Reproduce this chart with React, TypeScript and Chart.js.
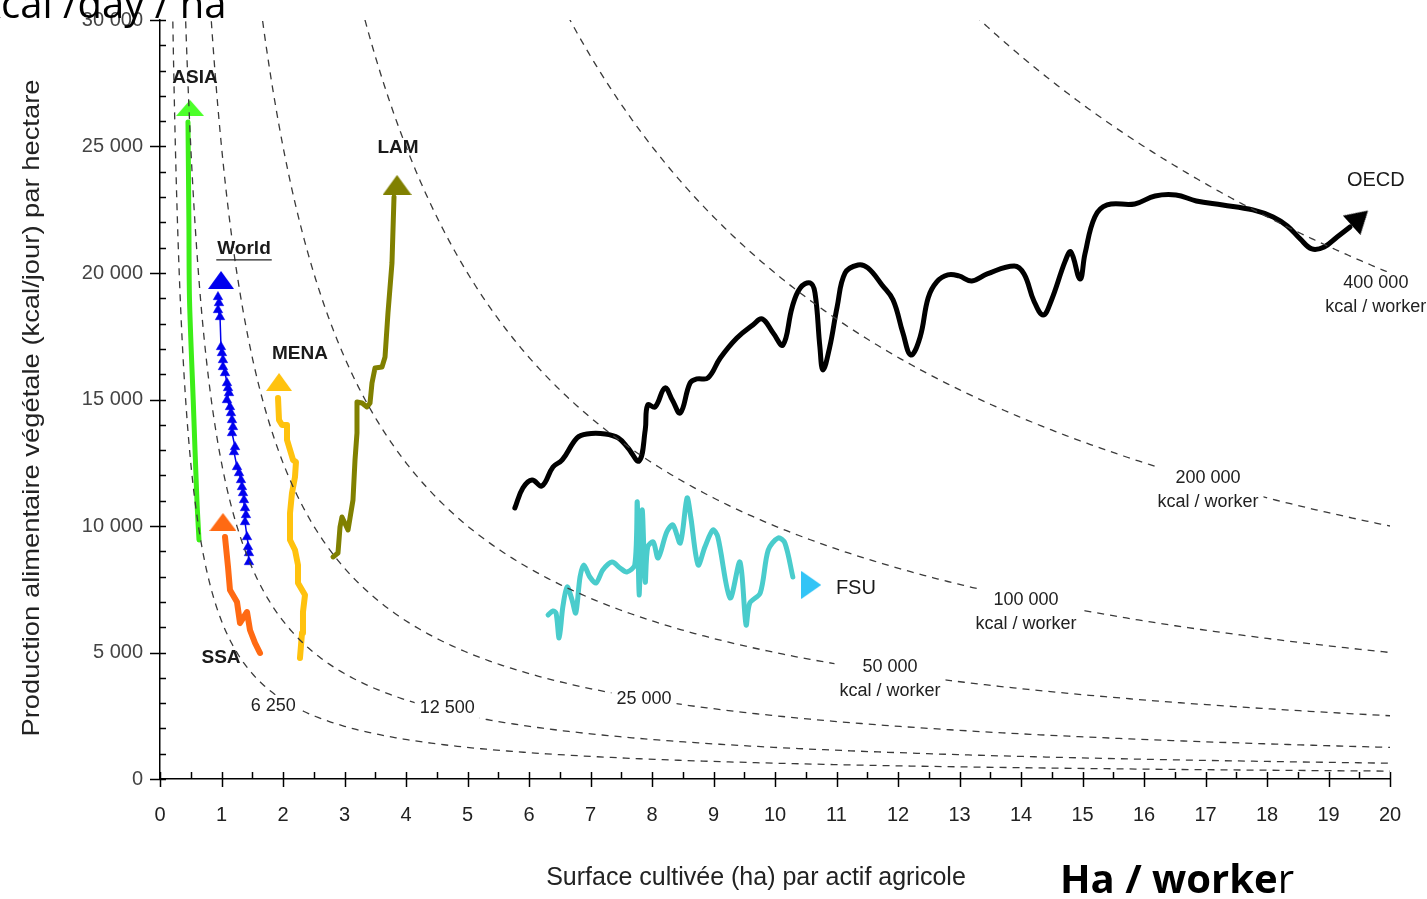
import React, { useEffect, useRef } from 'react';
import { Chart, registerables } from 'chart.js';

Chart.register(...registerables);

// ---------- axes ----------
const X_TICKS = [0, 1, 2, 3, 4, 5, 6, 7, 8, 9, 10, 11, 12, 13, 14, 15, 16, 17, 18, 19, 20];
const Y_TICKS = [0, 5000, 10000, 15000, 20000, 25000, 30000];
const X_MINOR_STEP = 0.5;
const Y_MINOR_STEP = 1000;

// ---------- iso-lines (kcal / worker) ----------
const ISO_K = [6250, 12500, 25000, 50000, 100000, 200000, 400000];
const ISO_LABEL_1 = ['6 250', '12 500', '25 000', '50 000', '100 000', '200 000', '400 000'];
const ISO_LABEL_2 = ['', '', '', 'kcal / worker', 'kcal / worker', 'kcal / worker', 'kcal / worker'];
const ISO_LABEL_X = [1.84, 4.67, 7.87, 11.87, 14.08, 17.04, 19.77];
const ISO_LABEL_Y = [2886, 2807, 3162, 4427, 7076, 11898, 19607];

// ---------- regional series (x = ha / worker, y = kcal/day/ha) ----------
const ASIA: [number, number][] = [
  [0.634, 9448], [0.60, 11029], [0.54, 14982], [0.48, 18935], [0.47, 22000], [0.455, 25971],
];
const WORLD: [number, number][] = [
  [1.447, 8578], [1.447, 8934], [1.431, 9171], [1.415, 9566], [1.382, 10159], [1.398, 10436],
  [1.382, 10713], [1.366, 11029], [1.350, 11306], [1.333, 11543], [1.317, 11820], [1.285, 12096],
  [1.252, 12333], [1.203, 12926], [1.220, 13124], [1.171, 13677], [1.187, 13915], [1.171, 14191],
  [1.154, 14468], [1.138, 14705], [1.089, 14982], [1.122, 15259], [1.106, 15456], [1.089, 15654],
  [1.057, 16049], [1.024, 16286], [1.024, 16563], [1.008, 16840], [0.992, 17077], [0.976, 18263],
  [0.943, 18540], [0.959, 18816], [0.943, 19053],
];
const MENA: [number, number][] = [
  [2.276, 4783], [2.309, 5771], [2.325, 6602], [2.358, 7274], [2.244, 7748], [2.244, 8459],
  [2.195, 9052], [2.114, 9448], [2.114, 10515], [2.146, 11306], [2.195, 11938], [2.211, 12531],
  [2.163, 12610], [2.065, 13401], [2.065, 13994], [1.984, 13994], [1.935, 14191], [1.919, 15061],
];
const SSA: [number, number][] = [
  [1.626, 4981], [1.545, 5376], [1.463, 5890], [1.415, 6602], [1.301, 6167], [1.252, 6997],
  [1.138, 7471], [1.106, 8380], [1.057, 9566],
];
const LAM: [number, number][] = [
  [2.813, 8776], [2.894, 8934], [2.927, 9962], [2.959, 10357], [3.057, 9843], [3.138, 11029],
  [3.171, 12610], [3.203, 13677], [3.203, 14903], [3.285, 14863], [3.366, 14705], [3.415, 14863],
  [3.447, 15654], [3.496, 16247], [3.610, 16286], [3.659, 16682], [3.707, 18421], [3.772, 20397],
  [3.805, 23006],
];
const FSU: [number, number][] = [
  [6.31, 6483], [6.39, 6641], [6.44, 6562], [6.49, 5574], [6.55, 6799], [6.62, 7590], [6.70, 7076],
  [6.76, 6562], [6.83, 7985], [6.89, 8459], [6.99, 7985], [7.09, 7748], [7.20, 8262], [7.35, 8578],
  [7.48, 8341], [7.59, 8183], [7.72, 8459], [7.76, 10950], [7.79, 7274], [7.84, 10634], [7.89, 7787],
  [7.93, 9171], [8.02, 9369], [8.10, 8736], [8.24, 9764], [8.34, 10041], [8.46, 9329], [8.57, 11108],
  [8.63, 10357], [8.75, 8459], [8.86, 9171], [8.99, 9843], [9.07, 9566], [9.27, 7155], [9.43, 8578],
  [9.53, 6088], [9.59, 6957], [9.76, 7353], [9.89, 9052], [10.05, 9527], [10.16, 9329], [10.29, 7985],
];
const OECD: [number, number][] = [
  [5.77, 10713], [5.90, 11503], [6.05, 11820], [6.21, 11582], [6.39, 12333], [6.54, 12610],
  [6.78, 13480], [6.94, 13638], [7.24, 13638], [7.45, 13480], [7.61, 13084], [7.79, 12571],
  [7.89, 13796], [7.93, 14784], [8.05, 14705], [8.21, 15456], [8.33, 14982], [8.46, 14468],
  [8.62, 15654], [8.73, 15812], [8.91, 15852], [9.11, 16642], [9.38, 17433], [9.64, 17947],
  [9.79, 18184], [9.97, 17630], [10.13, 17156], [10.28, 18658], [10.41, 19409], [10.57, 19607],
  [10.65, 19212], [10.73, 17077], [10.78, 16168], [10.89, 17077], [11.01, 18658], [11.14, 20002],
  [11.35, 20318], [11.51, 20200], [11.74, 19528], [11.92, 18935], [12.08, 17630], [12.21, 16761],
  [12.36, 17472], [12.49, 19014], [12.63, 19646], [12.81, 19923], [12.99, 19884], [13.20, 19686],
  [13.45, 19963], [13.89, 20279], [14.05, 19963], [14.21, 18895], [14.36, 18342], [14.49, 18895],
  [14.72, 20477], [14.81, 20832], [14.96, 19765], [15.04, 20753], [15.20, 22216], [15.40, 22690],
  [15.85, 22730], [16.18, 23046], [16.52, 23085], [16.85, 22848], [17.28, 22690], [17.77, 22493],
  [18.10, 22216], [18.33, 21860], [18.54, 21346], [18.73, 20951], [18.93, 21030], [19.14, 21425],
  [19.35, 21821],
];

// ---------- arrow heads (end of each trajectory) ----------
const ARROW_X = [0.488, 0.992, 1.935, 1.024, 3.854, 10.59, 19.51];
const ARROW_Y = [26525, 19725, 15693, 10159, 23481, 7669, 22176];
const ARROW_ANGLE = [0, 0, 0, 0, 0, 90, 48];

// ---------- region names ----------
const REGION_NAMES = ['ASIA', 'World', 'MENA', 'LAM', 'SSA', 'FSU', 'OECD'];
const REGION_LABEL_X = [0.569, 1.366, 2.276, 3.870, 0.992, 10.99, 19.77];
const REGION_LABEL_Y = [27711, 20951, 16800, 24943, 4783, 7550, 23639];

const COLORS = {
  asia: '#3cee18',
  asiaArrow: '#4cff2a',
  world: '#0000ee',
  mena: '#ffc20e',
  ssa: '#ff6a13',
  lam: '#808000',
  fsu: '#4acccc',
  fsuArrow: '#33c4f6',
  oecd: '#000000',
};
const ARROW_COLORS = [COLORS.asiaArrow, COLORS.world, COLORS.mena, COLORS.ssa, COLORS.lam, COLORS.fsuArrow, COLORS.oecd];
const ARROW_W = [28, 26, 26, 27, 29, 28, 26];
const ARROW_H = [16, 18, 18, 18, 20, 20, 22];

const FONT = '"Liberation Sans", Arial, sans-serif';

function fmt(v: number): string {
  if (v === 0) return '0';
  const th = Math.floor(v / 1000);
  const rest = String(v % 1000).padStart(3, '0');
  return `${th} ${rest}`;
}

function toXY(arr: [number, number][]) {
  return arr.map(([x, y]) => ({ x, y }));
}

function makeTriangle(color: string, w: number, h: number): HTMLCanvasElement {
  const c = document.createElement('canvas');
  c.width = w;
  c.height = h;
  const g = c.getContext('2d')!;
  g.fillStyle = color;
  g.beginPath();
  g.moveTo(w / 2, 0);
  g.lineTo(w, h);
  g.lineTo(0, h);
  g.closePath();
  g.fill();
  return c;
}

function isoCurve(k: number) {
  const pts: { x: number; y: number }[] = [];
  const x0 = k / 32000;
  const x1 = 20;
  const n = 300;
  for (let i = 0; i <= n; i++) {
    const x = x0 * Math.pow(x1 / x0, i / n);
    pts.push({ x, y: k / x });
  }
  return pts;
}

const decorPlugin = {
  id: 'decor',
  afterDatasetsDraw(chart: any) {
    const { ctx, scales } = chart;
    const x = scales.x;
    const y = scales.y;
    ctx.save();
    ctx.font = `18px ${FONT}`;
    ctx.textAlign = 'center';
    ctx.textBaseline = 'middle';
    for (let i = 0; i < ISO_K.length; i++) {
      const px = x.getPixelForValue(ISO_LABEL_X[i]);
      const py = y.getPixelForValue(ISO_LABEL_Y[i]);
      const l1 = ISO_LABEL_1[i];
      const l2 = ISO_LABEL_2[i];
      const w = Math.max(ctx.measureText(l1).width, l2 ? ctx.measureText(l2).width : 0);
      const h = l2 ? 46 : 22;
      ctx.fillStyle = '#ffffff';
      ctx.fillRect(px - w / 2 - 5, py - 11, w + 10, h);
      ctx.fillStyle = '#222222';
      ctx.fillText(l1, px, py);
      if (l2) ctx.fillText(l2, px, py + 24);
    }
    ctx.restore();
  },
  afterDraw(chart: any) {
    const { ctx, chartArea, scales } = chart;
    const x = scales.x;
    const y = scales.y;
    ctx.save();
    // ticks
    ctx.strokeStyle = '#000';
    ctx.lineWidth = 1.5;
    const yMax = Y_TICKS[Y_TICKS.length - 1];
    for (let v = 0; v <= yMax + 1e-6; v += Y_MINOR_STEP) {
      const py = Math.round(y.getPixelForValue(v)) + 0.5;
      const major = Y_TICKS.includes(v);
      ctx.beginPath();
      ctx.moveTo(chartArea.left - (major ? 10 : 0), py);
      ctx.lineTo(chartArea.left + 6, py);
      ctx.stroke();
    }
    const xMax = X_TICKS[X_TICKS.length - 1];
    for (let v = 0; v <= xMax + 1e-6; v += X_MINOR_STEP) {
      const px = Math.round(x.getPixelForValue(v)) + 0.5;
      const major = X_TICKS.includes(v);
      ctx.beginPath();
      ctx.moveTo(px, chartArea.bottom - 7);
      ctx.lineTo(px, chartArea.bottom + (major ? 8 : 0));
      ctx.stroke();
    }

    // region labels
    ctx.textBaseline = 'middle';
    for (let i = 0; i < REGION_NAMES.length; i++) {
      const name = REGION_NAMES[i];
      const px = x.getPixelForValue(REGION_LABEL_X[i]);
      const py = y.getPixelForValue(REGION_LABEL_Y[i]);
      const regular = name === 'FSU' || name === 'OECD';
      ctx.font = `${regular ? 'normal' : 'bold'} ${regular ? 20 : 19}px ${FONT}`;
      ctx.fillStyle = '#1a1a1a';
      ctx.textAlign = name === 'FSU' ? 'left' : 'center';
      ctx.fillText(name, px, py);
      if (name === 'World') {
        const w = ctx.measureText(name).width;
        ctx.strokeStyle = '#222';
        ctx.lineWidth = 1.3;
        ctx.beginPath();
        ctx.moveTo(px - w / 2 - 1, py + 11);
        ctx.lineTo(px + w / 2 + 1, py + 11);
        ctx.stroke();
      }
    }

    // axis titles
    ctx.fillStyle = '#222';
    ctx.font = `25px ${FONT}`;
    ctx.textAlign = 'center';
    ctx.textBaseline = 'middle';
    ctx.fillText('Surface cultivée (ha) par actif agricole', 756, 878);

    ctx.save();
    ctx.translate(32, 408);
    ctx.rotate(-Math.PI / 2);
    ctx.font = `24px ${FONT}`;
    const yt = 'Production alimentaire végétale (kcal/jour) par hectare';
    const mw = ctx.measureText(yt).width;
    ctx.scale(657 / mw, 1);
    ctx.fillText(yt, 0, 0);
    ctx.restore();

    // overlay captions
    ctx.fillStyle = '#000';
    ctx.textAlign = 'left';
    ctx.textBaseline = 'alphabetic';
    ctx.font = `normal 40px "Open Sans", "Noto Sans", sans-serif`;
    ctx.fillText('kcal /day / ha', -20, 18);

    ctx.font = `bold 40px "Open Sans", "Noto Sans", sans-serif`;
    const part = 'Ha / worke';
    ctx.fillText(part, 1060, 893);
    const pw = ctx.measureText(part).width;
    ctx.font = `normal 40px "Open Sans", "Noto Sans", sans-serif`;
    ctx.fillText('r', 1060 + pw, 893);
    ctx.restore();
  },
};

export default function App() {
  const ref = useRef<HTMLCanvasElement | null>(null);

  useEffect(() => {
    const canvas = ref.current;
    if (!canvas) return;

    const arrowStyles = ARROW_COLORS.map((c, i) => makeTriangle(c, ARROW_W[i], ARROW_H[i]));

    const seriesBase = {
      pointRadius: 0,
      fill: false,
      borderJoinStyle: 'round' as const,
      borderCapStyle: 'round' as const,
      order: 2,
    };

    const datasets: any[] = [
      { ...seriesBase, label: 'ASIA', data: toXY(ASIA), borderColor: COLORS.asia, borderWidth: 5, tension: 0.3 },
      {
        ...seriesBase,
        label: 'World',
        data: toXY(WORLD),
        borderColor: COLORS.world,
        borderWidth: 1.5,
        tension: 0,
        pointRadius: 5.5,
        pointStyle: 'triangle',
        pointBackgroundColor: COLORS.world,
        pointBorderColor: COLORS.world,
        pointBorderWidth: 0.5,
      },
      { ...seriesBase, label: 'MENA', data: toXY(MENA), borderColor: COLORS.mena, borderWidth: 6, tension: 0 },
      { ...seriesBase, label: 'SSA', data: toXY(SSA), borderColor: COLORS.ssa, borderWidth: 6, tension: 0 },
      { ...seriesBase, label: 'LAM', data: toXY(LAM), borderColor: COLORS.lam, borderWidth: 5, tension: 0 },
      { ...seriesBase, label: 'FSU', data: toXY(FSU), borderColor: COLORS.fsu, borderWidth: 5, tension: 0.3 },
      { ...seriesBase, label: 'OECD', data: toXY(OECD), borderColor: COLORS.oecd, borderWidth: 5, tension: 0.4 },
      {
        label: 'arrows',
        data: ARROW_X.map((vx, i) => ({ x: vx, y: ARROW_Y[i] })),
        showLine: false,
        pointRadius: 10,
        pointStyle: arrowStyles,
        pointRotation: ARROW_ANGLE,
        order: 2,
      },
      ...ISO_K.map((k) => ({
        label: `iso ${k}`,
        data: isoCurve(k),
        borderColor: '#3a3a3a',
        borderWidth: 1.3,
        borderDash: [7, 6],
        pointRadius: 0,
        tension: 0,
        fill: false,
        order: 0,
      })),
    ];

    const chart = new Chart(canvas, {
      type: 'line',
      data: { datasets },
      options: {
        animation: false,
        responsive: false,
        devicePixelRatio: 1,
        layout: { padding: { left: 0, right: 37, top: 20, bottom: 0 } },
        plugins: { legend: { display: false }, tooltip: { enabled: false } },
        scales: {
          x: {
            type: 'linear',
            min: 0,
            max: 20,
            afterFit: (s: any) => {
              s.height = 120;
              s.paddingLeft = 0;
              s.paddingRight = 0;
            },
            afterBuildTicks: (s: any) => {
              s.ticks = X_TICKS.map((v) => ({ value: v }));
            },
            ticks: {
              font: { family: FONT, size: 20 },
              color: '#222',
              padding: 24,
              maxRotation: 0,
              autoSkip: false,
            },
            grid: { display: false, drawTicks: false },
            border: { display: true, color: '#000', width: 1.5 },
          },
          y: {
            type: 'linear',
            min: 0,
            max: 30000,
            afterFit: (s: any) => {
              s.width = 160;
              s.paddingTop = 0;
              s.paddingBottom = 0;
            },
            afterBuildTicks: (s: any) => {
              s.ticks = Y_TICKS.map((v) => ({ value: v }));
            },
            ticks: {
              font: { family: FONT, size: 20 },
              color: '#444',
              padding: 17,
              autoSkip: false,
              callback: (v: any) => fmt(Number(v)),
            },
            grid: { display: false, drawTicks: false },
            border: { display: true, color: '#000', width: 1.5 },
          },
        },
      },
      plugins: [decorPlugin],
    });

    return () => {
      chart.destroy();
    };
  }, []);

  return (
    <div style={{ position: 'fixed', left: 0, top: 0, width: 1427, height: 899, background: '#fff', overflow: 'hidden' }}>
      <canvas ref={ref} width={1427} height={899} style={{ display: 'block', width: 1427, height: 899 }} />
    </div>
  );
}
